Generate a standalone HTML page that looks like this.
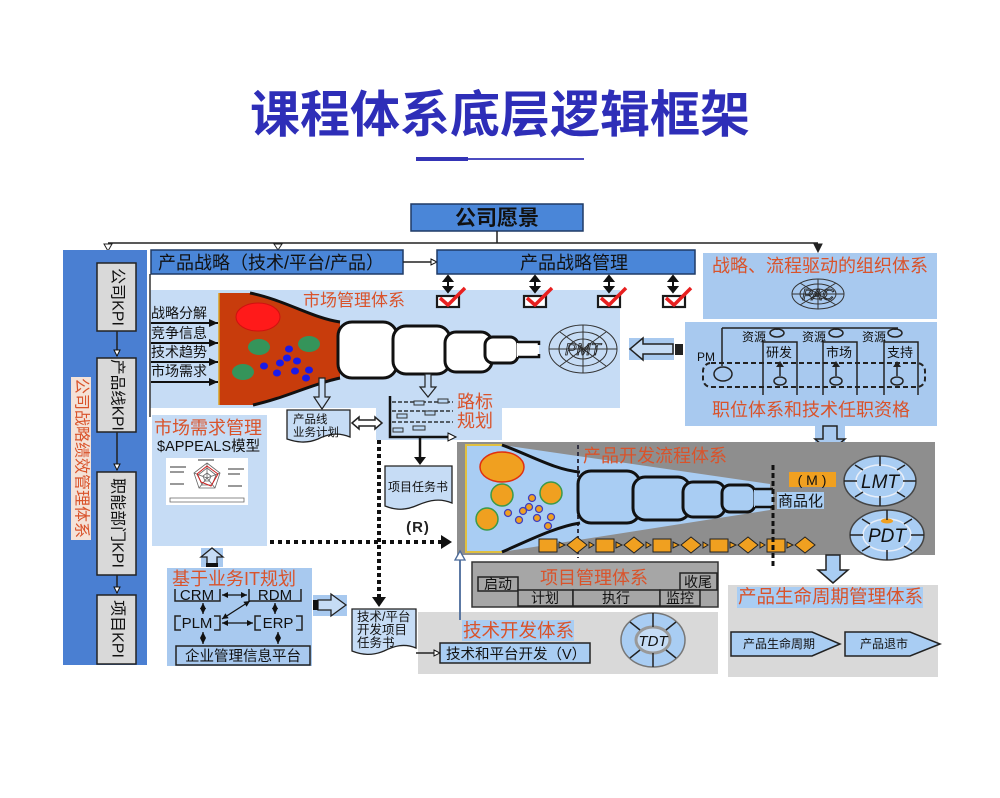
<!DOCTYPE html>
<html><head><meta charset="utf-8">
<style>
html,body{margin:0;padding:0;background:#fff;}
svg{display:block;}
text{font-family:"Liberation Sans","Noto Sans CJK SC",sans-serif;}
</style></head><body>
<svg width="1000" height="798" viewBox="0 0 1000 798" xmlns="http://www.w3.org/2000/svg">
<defs>
<marker id="a" markerWidth="9" markerHeight="8" refX="9" refY="4" orient="auto" markerUnits="userSpaceOnUse"><path d="M0,0 L9,4 L0,8 Z" fill="#111"/></marker>
<marker id="s" markerWidth="6" markerHeight="6" refX="6" refY="3" orient="auto-start-reverse" markerUnits="userSpaceOnUse"><path d="M0,0 L6,3 L0,6 Z" fill="#111"/></marker>
<marker id="o" markerWidth="8" markerHeight="8" refX="7" refY="4" orient="auto-start-reverse" markerUnits="userSpaceOnUse"><path d="M1,1 L7,4 L1,7 Z" fill="#fff" stroke="#111" stroke-width="1"/></marker>
</defs>

<!-- Title -->
<text x="500" y="132" text-anchor="middle" font-size="50" font-weight="bold" fill="#2e2eb8">课程体系底层逻辑框架</text>
<rect x="416" y="157" width="52" height="4" fill="#3434b6"/>
<rect x="468" y="158" width="116" height="2" fill="#4c4cc0"/>

<!-- 公司愿景 -->
<rect x="411" y="204" width="172" height="27" fill="#4a86d8" stroke="#1f3a66" stroke-width="1.5"/>
<text x="497" y="225" text-anchor="middle" font-size="21" font-weight="bold" fill="#111">公司愿景</text>
<path d="M497,231 V243 M108,243 H818" stroke="#222" stroke-width="1.5" fill="none"/>
<path d="M104,244 L112,244 L108,251 Z" fill="#fff" stroke="#222" stroke-width="1"/>
<path d="M274,244 L282,244 L278,250 Z" fill="#fff" stroke="#222" stroke-width="1"/>
<path d="M814,244 L822,244 L818,252 Z" fill="#222" stroke="#222" stroke-width="1"/>

<!-- Left blue panel -->
<rect x="63" y="250" width="84" height="415" fill="#4a7fd2"/>
<rect x="71" y="377" width="20" height="163" fill="#f4e2d8"/>
<text transform="translate(81,458) rotate(90)" text-anchor="middle" dominant-baseline="central" font-size="16" fill="#d9532b">公司战略绩效管理体系</text>

<rect x="97" y="263" width="39" height="68" fill="#d9d9d9" stroke="#222" stroke-width="1.5"/>
<text transform="translate(117,297) rotate(90)" text-anchor="middle" dominant-baseline="central" font-size="16" fill="#111">公司KPI</text>
<rect x="97" y="358" width="39" height="74" fill="#d9d9d9" stroke="#222" stroke-width="1.5"/>
<text transform="translate(117,395) rotate(90)" text-anchor="middle" dominant-baseline="central" font-size="15.5" fill="#111">产品线KPI</text>
<rect x="97" y="472" width="39" height="103" fill="#d9d9d9" stroke="#222" stroke-width="1.5"/>
<text transform="translate(117,523) rotate(90)" text-anchor="middle" dominant-baseline="central" font-size="16" fill="#111">职能部门KPI</text>
<rect x="97" y="595" width="39" height="69" fill="#d9d9d9" stroke="#222" stroke-width="1.5"/>
<text transform="translate(117,629) rotate(90)" text-anchor="middle" dominant-baseline="central" font-size="16" fill="#111">项目KPI</text>
<path d="M117,331 V356" stroke="#222" stroke-width="1.5" marker-end="url(#o)"/>
<path d="M117,432 V470" stroke="#222" stroke-width="1.5" marker-end="url(#o)"/>
<path d="M117,575 V593" stroke="#222" stroke-width="1.5" marker-end="url(#o)"/>

<!-- 产品战略 boxes -->
<rect x="151" y="250" width="252" height="24" fill="#4a86d8" stroke="#1f3a66" stroke-width="1.5"/>
<text x="158" y="269" font-size="18" fill="#111">产品战略（技术/平台/产品）</text>
<path d="M403,262 H437" stroke="#222" stroke-width="1.5" marker-end="url(#o)"/>
<rect x="437" y="250" width="258" height="24" fill="#4a86d8" stroke="#1f3a66" stroke-width="1.5"/>
<text x="574" y="269" text-anchor="middle" font-size="18" fill="#111">产品战略管理</text>

<!-- Market management light blue region -->
<rect x="150" y="290" width="470" height="118" fill="#c6dcf5"/>
<rect x="376" y="408" width="126" height="32" fill="#c6dcf5"/>
<path d="M150,274 V417" stroke="#333" stroke-width="1.5"/>

<!-- double arrows + checkboxes -->
<g stroke="#111" stroke-width="2" fill="#111">
<path d="M448,279 V289"/><path d="M444,281 L452,281 L448,276 Z"/><path d="M444,287 L452,287 L448,292 Z"/>
<path d="M535,279 V289"/><path d="M531,281 L539,281 L535,276 Z"/><path d="M531,287 L539,287 L535,292 Z"/>
<path d="M609,279 V289"/><path d="M605,281 L613,281 L609,276 Z"/><path d="M605,287 L613,287 L609,292 Z"/>
<path d="M673,279 V289"/><path d="M669,281 L677,281 L673,276 Z"/><path d="M669,287 L677,287 L673,292 Z"/>
</g>
<g stroke="#1a1a1a" stroke-width="2.2" fill="#fff">
<rect x="437" y="296" width="22" height="11"/>
<rect x="524" y="296" width="22" height="11"/>
<rect x="598" y="296" width="22" height="11"/>
<rect x="663" y="296" width="22" height="11"/>
</g>
<g stroke="#e82020" stroke-width="3.5" fill="none" stroke-linejoin="round">
<path d="M440,298 L448,305 L465,288"/>
<path d="M527,298 L535,305 L552,288"/>
<path d="M601,298 L609,305 L626,288"/>
<path d="M666,298 L674,305 L691,288"/>
</g>

<!-- Funnel -->
<path d="M219,293 L250,293 C285,300 312,318 340,322 L340,378 C312,384 285,398 253,405 L219,405 Z" fill="#c83c0c"/>
<path d="M250,293 C285,300 312,318 340,322 M253,405 C285,398 312,384 340,378" stroke="#111" stroke-width="3" fill="none"/>
<path d="M219,293 V405" stroke="#d8a020" stroke-width="1.5"/>
<ellipse cx="258" cy="317" rx="22" ry="14" fill="#ff1a1a" stroke="#d01010" stroke-width="1"/>
<g fill="#35945a">
<ellipse cx="259" cy="347" rx="11" ry="8"/>
<ellipse cx="309" cy="344" rx="11" ry="8"/>
<ellipse cx="243" cy="372" rx="11" ry="8"/>
</g>
<g fill="#1a1ae8">
<ellipse cx="289" cy="349" rx="4" ry="3.5"/><ellipse cx="287" cy="358" rx="4" ry="3.5"/>
<ellipse cx="280" cy="363" rx="4" ry="3.5"/><ellipse cx="297" cy="361" rx="4" ry="3.5"/>
<ellipse cx="264" cy="366" rx="4" ry="3.5"/><ellipse cx="277" cy="373" rx="4" ry="3.5"/>
<ellipse cx="295" cy="371" rx="4" ry="3.5"/><ellipse cx="309" cy="370" rx="4" ry="3.5"/>
<ellipse cx="306" cy="378" rx="4" ry="3.5"/>
</g>
<!-- white blobs -->
<g fill="#fff" stroke="#111" stroke-width="3">
<rect x="338" y="322" width="59" height="56" rx="14"/>
<rect x="393" y="326" width="57" height="48" rx="13"/>
<rect x="445" y="332" width="47" height="40" rx="11"/>
<rect x="485" y="337" width="33" height="26" rx="8"/>
</g>
<rect x="517" y="343" width="22" height="14" fill="#fff"/>
<path d="M518,342 H539 V345 M518,357 H539 V354" stroke="#111" stroke-width="2.5" fill="none"/>

<!-- left labels and arrows -->
<g font-size="14" fill="#111">
<text x="151" y="318">战略分解</text>
<text x="151" y="338">竞争信息</text>
<text x="151" y="357">技术趋势</text>
<text x="151" y="376">市场需求</text>
</g>
<g stroke="#111" stroke-width="2" marker-end="url(#a)">
<path d="M151,323 H218"/><path d="M151,343 H218"/><path d="M151,362 H218"/><path d="M151,382 H218"/>
</g>
<text x="303" y="306" font-size="17" fill="#d9532b">市场管理体系</text>

<!-- PMT -->
<g stroke="#333" stroke-width="1" fill="none">
<ellipse cx="583" cy="349" rx="34" ry="24"/>
<ellipse cx="583" cy="349" rx="24" ry="17"/>
<ellipse cx="583" cy="349" rx="14" ry="10"/>
<path d="M549,349 H617 M583,325 V373 M560,332 L606,366 M560,366 L606,332"/>
</g>
<text x="583" y="355" text-anchor="middle" font-size="17" font-style="italic" fill="none" stroke="#222" stroke-width="0.8">PMT</text>

<!-- left hollow arrow -->
<rect x="629" y="338" width="45" height="22" fill="#a8c9ef"/>
<path d="M630,349 L643,338 L643,344 L673,344 L673,354 L643,354 L643,360 Z" fill="#c6dcf5" stroke="#222" stroke-width="1.5"/>
<rect x="675" y="344" width="8" height="11" fill="#222"/>

<!-- Right top panel -->
<rect x="703" y="253" width="234" height="66" fill="#a8c9ef"/>
<text x="712" y="272" font-size="18" fill="#d9532b">战略、流程驱动的组织体系</text>
<g stroke="#333" stroke-width="1" fill="none">
<ellipse cx="818" cy="294" rx="26" ry="15"/>
<ellipse cx="818" cy="294" rx="18" ry="10"/>
<ellipse cx="818" cy="294" rx="9" ry="5"/>
<path d="M792,294 H844 M818,279 V309 M800,283 L836,305 M800,305 L836,283"/>
</g>
<text x="818" y="300" text-anchor="middle" font-size="16" font-style="italic" fill="none" stroke="#222" stroke-width="0.8">PAC</text>

<!-- Right second panel -->
<rect x="685" y="322" width="252" height="104" fill="#a8c9ef"/>
<g stroke="#222" stroke-width="1.5" fill="none">
<path d="M722,328 H898 M722,328 V366"/>
<ellipse cx="723" cy="374" rx="9" ry="7"/>
<path d="M777,328 V330 M836,328 V330 M895,328 V330"/>
<ellipse cx="777" cy="333" rx="7" ry="4"/>
<ellipse cx="836" cy="333" rx="7" ry="4"/>
<ellipse cx="895" cy="333" rx="7" ry="4"/>
<path d="M763,342 H797 V395 M763,340 V395"/>
<path d="M823,342 H857 V395 M823,340 V395"/>
<path d="M884,342 H918 V395 M884,340 V395"/>
<path d="M780,376 V364 M836,376 V364 M897,376 V364"/>
<ellipse cx="780" cy="381" rx="6" ry="4"/>
<ellipse cx="836" cy="381" rx="6" ry="4"/>
<ellipse cx="897" cy="381" rx="6" ry="4"/>
</g>
<g fill="#222">
<path d="M776,367 L784,367 L780,361 Z"/><path d="M832,367 L840,367 L836,361 Z"/><path d="M893,367 L901,367 L897,361 Z"/>
</g>
<rect x="703" y="363" width="222" height="24" rx="8" fill="none" stroke="#222" stroke-width="2" stroke-dasharray="5 3"/>
<g font-size="12" fill="#111">
<text x="742" y="341">资源</text>
<text x="802" y="341">资源</text>
<text x="862" y="341">资源</text>
<text x="697" y="361">PM</text>
<text x="766" y="357" font-size="13">研发</text>
<text x="826" y="357" font-size="13">市场</text>
<text x="887" y="357" font-size="13">支持</text>
</g>
<text x="811" y="416" text-anchor="middle" font-size="18" fill="#d9532b">职位体系和技术任职资格</text>

<!-- down arrow to product dev -->
<rect x="815" y="426" width="30" height="26" fill="#a8c9ef"/>
<path d="M823,426 H837 V439 H845 L830,452 L815,439 H823 Z" fill="#a8c9ef" stroke="#222" stroke-width="1.5"/>

<!-- down hollow arrows from funnel -->
<path d="M319,378 H325 V397 H330 L322,409 L314,397 H319 Z" fill="#c6dcf5" stroke="#222" stroke-width="1.2"/>
<path d="M425,374 H431 V387 H436 L428,397 L420,387 H425 Z" fill="#c6dcf5" stroke="#222" stroke-width="1.2"/>

<!-- 产品线业务计划 -->
<path d="M287,410 H350 V437 C338,432 328,434 318,439 C306,444 296,442 287,439 Z" fill="#c6dcf5" stroke="#222" stroke-width="1.3"/>
<text x="293" y="423" font-size="11.5" fill="#111">产品线</text>
<text x="293" y="436" font-size="11.5" fill="#111">业务计划</text>
<path d="M352,423 L359,417 L359,420 L375,420 L375,417 L382,423 L375,429 L375,426 L359,426 L359,429 Z" fill="#fff" stroke="#222" stroke-width="1.5"/>

<!-- roadmap -->
<g stroke="#111" stroke-width="1.3" stroke-dasharray="4 2">
<path d="M392,402 H453 M392,411 H453 M392,422 H453"/>
</g>
<g fill="#bcd8f5" stroke="#333" stroke-width="1">
<rect x="414" y="401" width="10" height="4"/><rect x="438" y="399" width="10" height="4"/>
<rect x="397" y="414" width="10" height="4"/><rect x="425" y="411" width="10" height="4"/>
<rect x="393" y="428" width="10" height="4"/><rect x="413" y="426" width="12" height="4"/>
</g>
<path d="M390,396 V437 H449" stroke="#111" stroke-width="2.5" fill="none"/>
<path d="M448,433 L456,437 L448,441 Z" fill="#fff" stroke="#111" stroke-width="1"/>
<text x="457" y="408" font-size="18" fill="#d9532b">路标</text>
<text x="457" y="427" font-size="18" fill="#d9532b">规划</text>
<path d="M420,437 V458" stroke="#111" stroke-width="2.5"/>
<path d="M414,457 L426,457 L420,465 Z" fill="#111"/>

<!-- 项目任务书 -->
<path d="M385,466 H452 V503 C440,498 430,500 418,505 C405,511 395,510 385,506 Z" fill="#c6dcf5" stroke="#222" stroke-width="1.3"/>
<text x="418" y="491" text-anchor="middle" font-size="12" fill="#111">项目任务书</text>
<text x="418" y="532" text-anchor="middle" font-size="15" font-weight="bold" letter-spacing="1" fill="#222">(R)</text>

<!-- 市场需求管理 -->
<rect x="152" y="415" width="115" height="131" fill="#c6dcf5"/>
<text x="154" y="434" font-size="18" fill="#d9532b">市场需求管理</text>
<text x="157" y="451" font-size="14.5" fill="#111">$APPEALS模型</text>
<rect x="166" y="458" width="82" height="47" fill="#fff"/>
<g fill="none" stroke="#666" stroke-width="0.8">
<path d="M207,463 L220,473 L215,488 L199,488 L194,473 Z"/>
<path d="M207,468 L216,475 L212,485 L202,485 L198,475 Z"/>
<path d="M207,473 L211,476 L209,481 L205,481 L203,476 Z"/>
<path d="M207,463 V478 M220,473 L207,478 M215,488 L207,478 M199,488 L207,478 M194,473 L207,478"/>
<path d="M170,498 H244 V502 H170 Z"/>
</g>
<path d="M207,466 L218,474 L211,486 L201,482 L197,474 Z" fill="none" stroke="#d02020" stroke-width="1"/>
<g fill="#999">
<rect x="170" y="466" width="16" height="2"/><rect x="170" y="471" width="14" height="2"/>
<rect x="228" y="468" width="16" height="2"/><rect x="228" y="473" width="12" height="2"/>
<rect x="170" y="483" width="14" height="2"/><rect x="228" y="485" width="14" height="2"/>
<rect x="198" y="459" width="16" height="2"/>
</g>

<!-- dotted lines -->
<path d="M379,440 V598" stroke="#111" stroke-width="4" stroke-dasharray="4 3"/>
<path d="M372,597 L386,597 L379,607 Z" fill="#111"/>
<path d="M270,542 H441" stroke="#111" stroke-width="4" stroke-dasharray="4 4"/>
<path d="M441,535 L452,542 L441,549 Z" fill="#111"/>

<!-- up arrow to 市场需求管理 -->
<rect x="201" y="548" width="22" height="19" fill="#a8c9ef"/>
<path d="M207,566 V557 H201 L212,548 L223,557 H217 V566 Z" fill="#c6dcf5" stroke="#222" stroke-width="1.3"/>
<rect x="206" y="563" width="12" height="4" fill="#111"/>

<!-- IT planning panel -->
<rect x="167" y="568" width="145" height="98" fill="#a8c9ef"/>
<text x="172" y="585" font-size="18" fill="#d9532b">基于业务IT规划</text>
<g stroke="#222" stroke-width="1.5" fill="none">
<path d="M175,589 V601 H220 V589"/>
<path d="M249,589 V601 H301 V589"/>
<path d="M181,616 H175 V630 H181 M214,616 H220 V630 H214"/>
<path d="M261,616 H255 V630 H261 M296,616 H302 V630 H296"/>
</g>
<g font-size="15" fill="#111" text-anchor="middle">
<text x="197" y="600">CRM</text>
<text x="275" y="600">RDM</text>
<text x="197" y="628">PLM</text>
<text x="278" y="628">ERP</text>
</g>
<g stroke="#111" stroke-width="1.3" marker-start="url(#s)" marker-end="url(#s)">
<path d="M222,595 H247"/>
<path d="M222,623 H253"/>
<path d="M222,619 L250,601"/>
<path d="M203,603 V614"/>
<path d="M275,603 V614"/>
<path d="M203,632 V644"/>
<path d="M278,632 V644"/>
</g>
<rect x="176" y="646" width="134" height="19" fill="#a8c9ef" stroke="#222" stroke-width="1.5"/>
<text x="243" y="661" text-anchor="middle" font-size="14.5" fill="#111">企业管理信息平台</text>

<!-- right arrow to 技术/平台 doc -->
<rect x="313" y="595" width="34" height="21" fill="#a8c9ef"/>
<path d="M318,600 H331 V594 L346,605 L331,616 V610 H318 Z" fill="#c6dcf5" stroke="#222" stroke-width="1.3"/>
<rect x="313" y="600" width="5" height="10" fill="#111"/>

<!-- 技术/平台开发项目任务书 -->
<path d="M352,609 H416 V648 C404,643 394,646 384,651 C372,656 362,655 352,651 Z" fill="#c6dcf5" stroke="#222" stroke-width="1.3"/>
<g font-size="12.5" fill="#111">
<text x="357" y="621">技术/平台</text>
<text x="357" y="634">开发项目</text>
<text x="357" y="647">任务书</text>
</g>

<!-- Product development panel -->
<rect x="457" y="442" width="478" height="113" fill="#8e8e8e"/>
<path d="M466,445 L502,445 L770,484 L770,510 L502,552 L466,552 Z" fill="#a9cdf3"/>
<path d="M502,445 H466 V552 H502" stroke="#e0c040" stroke-width="2" fill="none"/>
<path d="M578,445 V558" stroke="#334" stroke-width="2" stroke-dasharray="4 3"/>
<ellipse cx="502" cy="467" rx="22" ry="15" fill="#f0a020" stroke="#e03010" stroke-width="1.5"/>
<g fill="#f0a020" stroke="#3a9a4a" stroke-width="1.5">
<circle cx="502" cy="495" r="11"/><circle cx="551" cy="493" r="11"/><circle cx="487" cy="519" r="11"/>
</g>
<g fill="#f0a020" stroke="#4040c0" stroke-width="1.3">
<circle cx="532" cy="498" r="3.5"/><circle cx="529" cy="507" r="3.5"/><circle cx="539" cy="509" r="3.5"/>
<circle cx="523" cy="511" r="3.5"/><circle cx="508" cy="513" r="3.5"/><circle cx="537" cy="518" r="3.5"/>
<circle cx="551" cy="517" r="3.5"/><circle cx="519" cy="520" r="3.5"/><circle cx="548" cy="526" r="3.5"/>
</g>
<path d="M502,445 C530,455 555,470 580,472 M502,552 C530,540 555,527 580,523" stroke="#111" stroke-width="3" fill="none"/>
<g fill="#a9cdf3" stroke="#111" stroke-width="3">
<rect x="578" y="471" width="62" height="52" rx="13"/>
<rect x="633" y="477" width="57" height="43" rx="12"/>
<rect x="683" y="482" width="42" height="35" rx="10"/>
<rect x="722" y="485" width="33" height="27" rx="8"/>
</g>
<rect x="754" y="490" width="19" height="17" fill="#a9cdf3"/>
<path d="M755,489 H773 M755,507 H773" stroke="#111" stroke-width="2.5"/>
<text x="583" y="462" font-size="18" fill="#d9532b">产品开发流程体系</text>

<!-- chain -->
<g fill="#f0a020" stroke="#222" stroke-width="1">
<rect x="539" y="539" width="18" height="13"/><rect x="596" y="539" width="18" height="13"/>
<rect x="653" y="539" width="18" height="13"/><rect x="710" y="539" width="18" height="13"/>
<rect x="767" y="539" width="18" height="13"/>
<path d="M567,545 L577,537 L587,545 L577,553 Z"/><path d="M624,545 L634,537 L644,545 L634,553 Z"/>
<path d="M681,545 L691,537 L701,545 L691,553 Z"/><path d="M738,545 L748,537 L758,545 L748,553 Z"/>
<path d="M795,545 L805,537 L815,545 L805,553 Z"/>
<path d="M559,542 L565,545 L559,548 Z"/><path d="M589,542 L594,545 L589,548 Z"/>
<path d="M616,542 L622,545 L616,548 Z"/><path d="M646,542 L651,545 L646,548 Z"/>
<path d="M673,542 L679,545 L673,548 Z"/><path d="M703,542 L708,545 L703,548 Z"/>
<path d="M730,542 L736,545 L730,548 Z"/><path d="M760,542 L765,545 L760,548 Z"/>
<path d="M787,542 L793,545 L787,548 Z"/>
</g>
<path d="M773,465 V568" stroke="#111" stroke-width="3" stroke-dasharray="5 3"/>

<!-- (M) 商品化 -->
<rect x="789" y="472" width="47" height="15" fill="#f0a020"/>
<text x="812" y="485" text-anchor="middle" font-size="14" fill="#111">( M )</text>
<rect x="777" y="492" width="47" height="17" fill="#a9cdf3"/>
<text x="778" y="506" font-size="15" fill="#111">商品化</text>

<!-- LMT -->
<ellipse cx="880" cy="481" rx="36" ry="25" fill="#a9cdf3" stroke="#444" stroke-width="1.5"/>
<ellipse cx="880" cy="481" rx="24" ry="16" fill="none" stroke="#e8eef8" stroke-width="1.5"/>
<g stroke="#222" stroke-width="1.5">
<path d="M880,456 V466 M880,496 V506 M844,481 H857 M903,481 H916 M855,465 L863,470 M905,465 L897,470 M855,497 L863,492 M905,497 L897,492"/>
</g>
<text x="880" y="488" text-anchor="middle" font-size="19" font-style="italic" fill="#111">LMT</text>
<!-- PDT -->
<ellipse cx="887" cy="535" rx="37" ry="25" fill="#a9cdf3" stroke="#444" stroke-width="1.5"/>
<ellipse cx="887" cy="535" rx="24" ry="16" fill="none" stroke="#e8eef8" stroke-width="1.5"/>
<ellipse cx="887" cy="521" rx="6" ry="2.5" fill="#f0a020"/>
<g stroke="#222" stroke-width="1.5">
<path d="M887,510 V520 M887,550 V560 M850,535 H863 M911,535 H924 M862,519 L870,524 M912,519 L904,524 M862,551 L870,546 M912,551 L904,546"/>
</g>
<text x="887" y="542" text-anchor="middle" font-size="19" font-style="italic" fill="#111">PDT</text>

<!-- down arrow to lifecycle -->
<path d="M826,555 H840 V570 H848 L833,583 L818,570 H826 Z" fill="#a9cdf3" stroke="#222" stroke-width="1.5"/>

<!-- vertical up line -->
<path d="M460,620 V558" stroke="#4a6a9a" stroke-width="1.8"/>
<path d="M455,560 L460,551 L465,560 Z" fill="#fff" stroke="#4a6a9a" stroke-width="1.3"/>

<!-- 项目管理体系 -->
<rect x="472" y="562" width="246" height="45" fill="#a6a6a6" stroke="#333" stroke-width="1.5"/>
<text x="540" y="584" font-size="18" fill="#d9532b">项目管理体系</text>
<g fill="#a6a6a6" stroke="#222" stroke-width="1.5">
<rect x="478" y="577" width="40" height="14"/>
<rect x="680" y="573" width="37" height="17"/>
<rect x="518" y="590" width="55" height="16"/>
<rect x="573" y="590" width="87" height="16"/>
<rect x="660" y="590" width="40" height="16"/>
</g>
<g font-size="14" fill="#111" text-anchor="middle">
<text x="498" y="589">启动</text>
<text x="698" y="587">收尾</text>
<text x="545" y="603">计划</text>
<text x="616" y="603">执行</text>
<text x="680" y="603">监控</text>
</g>

<!-- 技术开发体系 -->
<rect x="418" y="612" width="300" height="62" fill="#d9d9d9"/>
<path d="M460,620 V612" stroke="#4a6a9a" stroke-width="1.8"/>
<rect x="462" y="620" width="112" height="21" fill="#a9cdf3"/>
<text x="463" y="637" font-size="18.5" fill="#d9532b">技术开发体系</text>
<path d="M416,653 H440" stroke="#222" stroke-width="1.5" marker-end="url(#o)"/>
<rect x="440" y="643" width="150" height="20" fill="#a9cdf3" stroke="#222" stroke-width="1.5"/>
<text x="446" y="659" font-size="14.5" fill="#111">技术和平台开发（V）</text>
<!-- TDT -->
<ellipse cx="653" cy="640" rx="32" ry="27" fill="#a9cdf3" stroke="#777" stroke-width="1.5"/>
<ellipse cx="653" cy="640" rx="17" ry="13" fill="#c6dcf5" stroke="#999" stroke-width="3"/>
<g stroke="#222" stroke-width="1.5">
<path d="M653,613 V627 M653,653 V667 M630,622 L640,630 M676,622 L666,630 M630,658 L640,650 M676,658 L666,650"/>
</g>
<text x="653" y="646" text-anchor="middle" font-size="15" font-style="italic" fill="#111">TDT</text>

<!-- Lifecycle panel -->
<rect x="728" y="585" width="210" height="92" fill="#d9d9d9"/>
<rect x="737" y="587" width="186" height="21" fill="#a9cdf3"/>
<text x="738" y="603" font-size="18.5" fill="#d9532b">产品生命周期管理体系</text>
<path d="M731,632 H812 L840,644 L812,656 H731 Z" fill="#a9cdf3" stroke="#222" stroke-width="1.5"/>
<text x="743" y="648" font-size="12" fill="#111">产品生命周期</text>
<path d="M845,632 H910 L940,644 L910,656 H845 Z" fill="#a9cdf3" stroke="#222" stroke-width="1.5"/>
<text x="860" y="648" font-size="12" fill="#111">产品退市</text>
</svg>
</body></html>
